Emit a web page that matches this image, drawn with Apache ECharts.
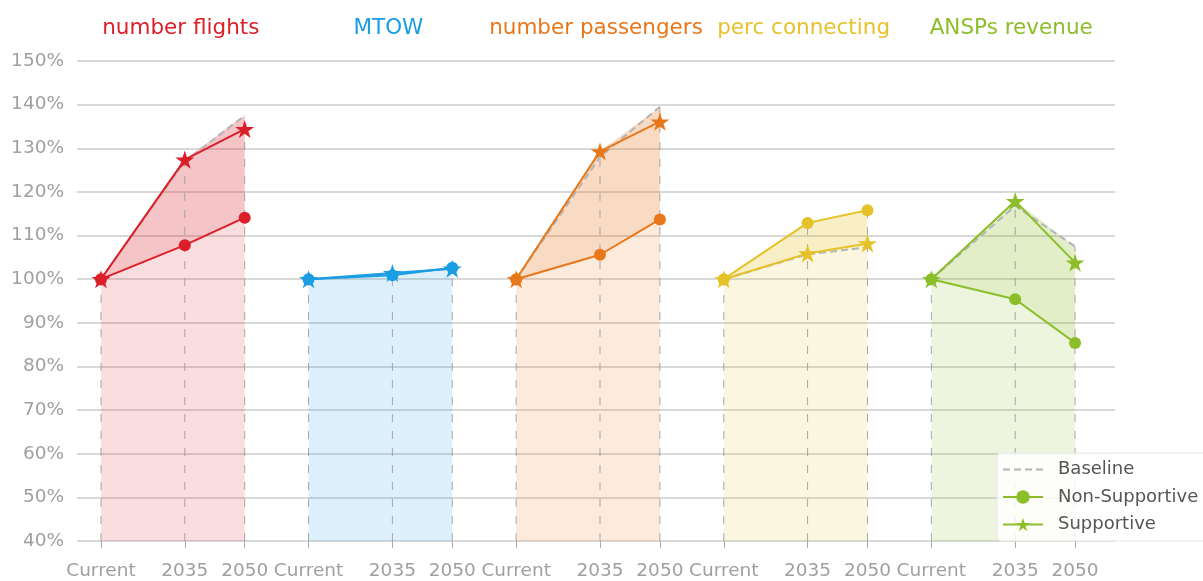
<!DOCTYPE html>
<html>
<head>
<meta charset="utf-8">
<script src="https://cdn.jsdelivr.net/npm/echarts@6/dist/echarts.min.js"></script>
<style>html,body{margin:0;padding:0;background:#fff;}#c{width:1203px;height:581px;}</style>
</head>
<body>
<div id="c"></div>
<script>
// ---------- data ----------
const stepLabels = ['Current', '2035', '2050'];
const panelNames = ['number flights', 'MTOW', 'number passengers', 'perc connecting', 'ANSPs revenue'];
const yTicks = [40, 50, 60, 70, 80, 90, 100, 110, 120, 130, 140, 150];

const flightsBaseline = [100, 127.0, 137.5];
const flightsNonSupp  = [100, 107.8, 114.1];
const flightsSupp     = [100, 127.4, 134.4];

const mtowBaseline = [100, 101.2, 102.5];
const mtowNonSupp  = [100, 100.9, 102.6];
const mtowSupp     = [100, 101.4, 102.4];

const paxBaseline = [100, 128.0, 139.5];
const paxNonSupp  = [100, 105.6, 113.7];
const paxSupp     = [100, 129.3, 136.1];

const connBaseline = [100, 105.7, 107.3];
const connNonSupp  = [100, 112.9, 115.8];
const connSupp     = [100, 105.9, 108.2];

const revBaseline = [100, 116.8, 107.5];
const revNonSupp  = [100, 95.4, 85.4];
const revSupp     = [100, 117.9, 103.8];

// ---------- layout / style ----------
const STEP_POS = [0, 21, 36];
const PANEL_SPAN = 52;
const colors = ['#dc1e28', '#1b9de2', '#e8771a', '#e5c22a', '#8cbe2a'];
const FONT = 'DejaVu Sans';

const panels = [
  {b: flightsBaseline, ns: flightsNonSupp, s: flightsSupp},
  {b: mtowBaseline, ns: mtowNonSupp, s: mtowSupp},
  {b: paxBaseline, ns: paxNonSupp, s: paxSupp},
  {b: connBaseline, ns: connNonSupp, s: connSupp},
  {b: revBaseline, ns: revNonSupp, s: revSupp}
];

function starPath() {
  const R = 1, r = 0.381966, pts = [];
  for (let k = 0; k < 10; k++) {
    const rad = (k % 2 === 0) ? R : r;
    const a = -Math.PI / 2 + k * Math.PI / 5;
    pts.push((rad * Math.cos(a)).toFixed(4) + ' ' + (rad * Math.sin(a)).toFixed(4));
  }
  return 'path://M' + pts.join(' L') + ' Z';
}
const STAR = starPath();

const xPositions = [];
const xLabelMap = {};
panels.forEach((p, pi) => STEP_POS.forEach((sp, i) => {
  const x = pi * PANEL_SPAN + sp;
  xPositions.push(x);
  xLabelMap[x] = stepLabels[i];
}));

const series = [];
// fills + vertical dashed lines
series.push({
  type: 'custom',
  name: 'fills',
  silent: true,
  z: 1,
  encode: {x: 0, y: 1},
  data: panels.map((p, pi) => [pi * PANEL_SPAN, 100, pi]),
  renderItem: function (params, api) {
    const pi = params.dataIndex;
    const p = panels[pi];
    const off = pi * PANEL_SPAN;
    const mx = STEP_POS.map((sp, i) => Math.max(p.b[i], p.ns[i], p.s[i]));
    const mn = STEP_POS.map((sp, i) => Math.min(p.b[i], p.ns[i], p.s[i]));
    const maxPts = STEP_POS.map((sp, i) => api.coord([off + sp, mx[i]]));
    const minPts = STEP_POS.map((sp, i) => api.coord([off + sp, mn[i]]));
    const bot = STEP_POS.map((sp) => api.coord([off + sp, 40]));
    const children = [];
    children.push({type: 'polygon', shape: {points: [bot[0]].concat(maxPts, [bot[2]])},
      style: {fill: colors[pi], opacity: 0.15}});
    children.push({type: 'polygon', shape: {points: maxPts.concat(minPts.slice().reverse())},
      style: {fill: colors[pi], opacity: 0.13}});
    STEP_POS.forEach((sp, i) => {
      children.push({type: 'line', shape: {x1: bot[i][0], y1: bot[i][1], x2: maxPts[i][0], y2: maxPts[i][1]},
        style: {stroke: '#999', lineWidth: 1, lineDash: [8, 9], opacity: 0.85}});
    });
    return {type: 'group', children: children};
  }
});

panels.forEach((p, pi) => {
  const last = pi === panels.length - 1;
  const xy = (arr) => arr.map((v, i) => [pi * PANEL_SPAN + STEP_POS[i], v]);
  series.push({
    type: 'line', name: last ? 'Baseline' : 'Baseline ' + pi, data: xy(p.b),
    symbol: 'none', z: 3, silent: true,
    lineStyle: {color: '#b4b4b4', width: 2, type: [7, 4]},
    itemStyle: {color: '#b4b4b4'}
  });
  series.push({
    type: 'line', name: last ? 'Non-Supportive' : 'Non-Supportive ' + pi, data: xy(p.ns),
    symbol: 'circle', symbolSize: 12, z: 4, silent: true,
    lineStyle: {color: colors[pi], width: 2},
    itemStyle: {color: colors[pi]}
  });
  series.push({
    type: 'line', name: last ? 'Supportive' : 'Supportive ' + pi, data: xy(p.s),
    symbol: STAR, symbolSize: 19, symbolKeepAspect: true, z: 5, silent: true,
    lineStyle: {color: colors[pi], width: 2},
    itemStyle: {color: colors[pi]}
  });
});

const chart = echarts.init(document.getElementById('c'), null, {renderer: 'canvas'});
chart.setOption({
  animation: false,
  backgroundColor: '#fff',
  textStyle: {fontFamily: FONT},
  grid: {left: 77, right: 88, top: 61, bottom: 39, containLabel: false},
  xAxis: {
    type: 'value', min: -6, max: 254,
    axisLine: {show: false},
    splitLine: {show: false},
    axisTick: {show: true, customValues: xPositions, length: 7, lineStyle: {color: '#aaa', width: 1}},
    axisLabel: {
      customValues: xPositions, margin: 21, color: '#a0a0a0', fontSize: 18.5, fontFamily: FONT,
      formatter: (v) => xLabelMap[v] || ''
    }
  },
  yAxis: {
    type: 'value', min: yTicks[0], max: yTicks[yTicks.length - 1], interval: 10,
    axisLine: {show: false}, axisTick: {show: false},
    splitLine: {lineStyle: {color: '#cccccc', width: 1.5}},
    axisLabel: {color: '#a0a0a0', fontSize: 18.5, fontFamily: FONT, margin: 13, formatter: '{value}%'}
  },
  legend: {
    orient: 'vertical', left: 997, top: 453,
    data: [
      {name: 'Baseline', itemStyle: {opacity: 0}},
      {name: 'Non-Supportive'},
      {name: 'Supportive'}
    ],
    itemWidth: 40, itemHeight: 17, itemGap: 6.5,
    padding: [6, 12, 6, 5],
    backgroundColor: 'rgba(255,255,255,0.85)', borderColor: '#e6e6e6', borderWidth: 1, borderRadius: 4,
    textStyle: {fontSize: 18, color: '#555', fontFamily: FONT, lineHeight: 21, padding: [0, 0, 0, 10]},
    selectedMode: false
  },
  series: series
});

const titles = panelNames.map((name, pi) => {
  const pt = chart.convertToPixel({gridIndex: 0}, [pi * PANEL_SPAN + 20, 150]);
  return {type: 'text', x: pt[0], y: 28, style: {text: name, fill: colors[pi], font: '21.5px "DejaVu Sans"',
    textAlign: 'center', textVerticalAlign: 'middle'}};
});
chart.setOption({graphic: titles});
</script>
</body>
</html>
